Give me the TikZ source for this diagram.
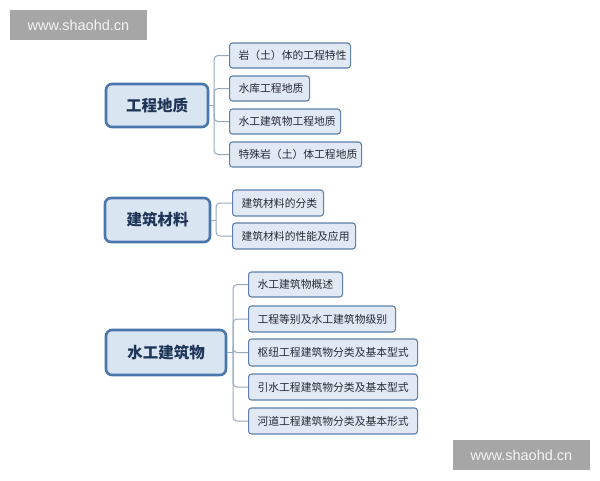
\documentclass[tikz,border=0pt]{standalone}
\usepackage{fontspec}
\setmainfont{Noto Sans CJK SC}
\newfontfamily\wmfont{Liberation Sans}
\begin{document}
\begin{tikzpicture}[x=1pt,y=-1pt,
  mainbox/.style={draw=mainborder,line width=2.6pt,fill=mainfill,rounded corners=6pt,
    font=\fontsize{15.5}{17}\selectfont\bfseries,text=maintext,inner sep=0pt},
  childbox/.style={draw=childborder,line width=1.1pt,fill=childfill,rounded corners=3pt,
    font=\fontsize{10.8}{12}\selectfont,text=childtext,anchor=west,align=left,inner xsep=9pt,inner ysep=0pt},
  conn/.style={draw=connc,line width=1pt,rounded corners=4pt},
  wmbox/.style={fill=wmgray,text=wmtext,font=\wmfont\fontsize{14.5}{16}\selectfont,inner sep=0pt}
]
\definecolor{mainborder}{HTML}{4A76AE}
\definecolor{mainfill}{HTML}{DAE5F2}
\definecolor{maintext}{HTML}{1F3558}
\definecolor{childborder}{HTML}{5E80AA}
\definecolor{childfill}{HTML}{E1E9F4}
\definecolor{childtext}{HTML}{262A33}
\definecolor{connc}{HTML}{97A8BF}
\definecolor{wmgray}{HTML}{A6A6A6}
\definecolor{wmtext}{HTML}{F4F4F4}
\useasboundingbox[fill=white] (0,0) rectangle (600,480);

% watermark boxes
\node[wmbox,minimum width=137pt,minimum height=30pt] (wm1) at (78.5,25) {www.shaohd.cn};
\node[wmbox,minimum width=137pt,minimum height=30pt] (wm2) at (521.5,455) {www.shaohd.cn};

% group 1
\node[mainbox,minimum width=102pt,minimum height=43pt] (m1) at (157,105.5) {工程地质};
\node[childbox,minimum width=121pt,text width=103pt,minimum height=25pt] (a1) at (229,55.5) {岩（土）体的工程特性};
\node[childbox,minimum width=80pt,text width=62pt,minimum height=25pt] (a2) at (229,88.5) {水库工程地质};
\node[childbox,minimum width=111pt,text width=93pt,minimum height=25pt] (a3) at (229,121.5) {水工建筑物工程地质};
\node[childbox,minimum width=132pt,text width=114pt,minimum height=25pt] (a4) at (229,154.5) {特殊岩（土）体工程地质};
\coordinate (j1) at (214,105.5);
\draw[conn] (m1.east) -- (j1);
\foreach \c in {a1,a2,a3,a4} \draw[conn] (j1) |- (\c.west);

% group 2
\node[mainbox,minimum width=105pt,minimum height=44pt] (m2) at (157.5,220) {建筑材料};
\node[childbox,minimum width=91pt,text width=73pt,minimum height=26pt] (b1) at (232,203) {建筑材料的分类};
\node[childbox,minimum width=123pt,text width=105pt,minimum height=26pt] (b2) at (232,236) {建筑材料的性能及应用};
\coordinate (j2) at (216,220);
\draw[conn] (m2.east) -- (j2);
\foreach \c in {b1,b2} \draw[conn] (j2) |- (\c.west);

% group 3
\node[mainbox,minimum width=120pt,minimum height=45pt] (m3) at (166,352.5) {水工建筑物};
\node[childbox,minimum width=94pt,text width=76pt,minimum height=25pt] (c1) at (248,284.5) {水工建筑物概述};
\node[childbox,minimum width=147pt,text width=129pt,minimum height=26pt] (c2) at (248,319) {工程等别及水工建筑物级别};
\node[childbox,minimum width=168pt,text width=151pt,minimum height=27pt] (c3) at (248,352.5) {枢纽工程建筑物分类及基本型式};
\node[childbox,minimum width=168pt,text width=151pt,minimum height=26pt] (c4) at (248,387) {引水工程建筑物分类及基本型式};
\node[childbox,minimum width=168pt,text width=151pt,minimum height=26pt] (c5) at (248,421) {河道工程建筑物分类及基本形式};
\coordinate (j3) at (233,352.5);
\draw[conn] (m3.east) -- (j3);
\foreach \c in {c1,c2,c3,c4,c5} \draw[conn] (j3) |- (\c.west);
\end{tikzpicture}
\end{document}
